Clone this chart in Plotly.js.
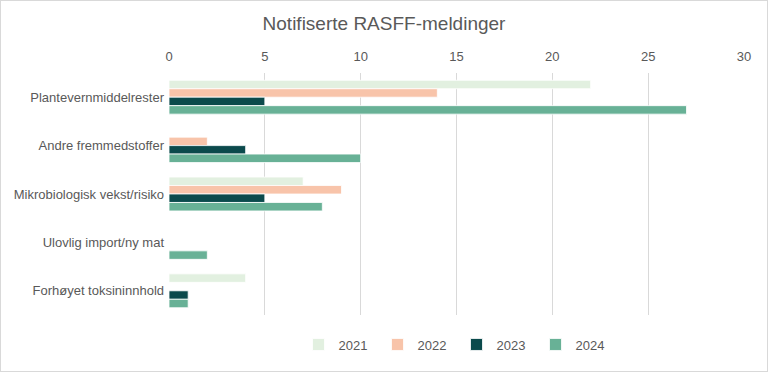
<!DOCTYPE html>
<html><head><meta charset="utf-8">
<script src="https://cdn.plot.ly/plotly-3.0.1.min.js"></script>
<style>html,body{margin:0;padding:0;background:#fff}#c{width:766px;height:370px;border:1px solid #d9d9d9}</style>
</head><body><div id="c"></div>
<script>
const categories = ["Plantevernmiddelrester","Andre fremmedstoffer","Mikrobiologisk vekst/risiko","Ulovlig import/ny mat","Forhøyet toksininnhold"];
const years = ["2021","2022","2023","2024"];
const v2021 = [22, 0, 7, 0, 4];
const v2022 = [14, 2, 9, 0, 0];
const v2023 = [5, 4, 5, 0, 1];
const v2024 = [27, 10, 8, 2, 1];
const colors = ["#E2F0E0","#F8C4AA","#0B4A4C","#68B196"];
const series = [v2021, v2022, v2023, v2024];
const traces = series.map((vals,i)=>({
  type:'bar', orientation:'h', name:years[i], x:vals, y:categories,
  marker:{color:colors[i], line:{color:'#ffffff', width:0.8}},
  hoverinfo:'x+name'
}));
const font = "Liberation Sans, Arial, sans-serif";
Plotly.newPlot('c', traces, {
  width:766, height:370,
  margin:{l:168, r:23, t:72, b:48},
  paper_bgcolor:'#fff', plot_bgcolor:'#fff',
  font:{family:font, size:13, color:'#595959'},
  title:{text:'Notifiserte RASFF-meldinger', x:0.5, xanchor:'center', y:0.94, yanchor:'middle', font:{family:font, size:19, color:'#595959'}},
  barmode:'group', bargap:0.3, bargroupgap:0,
  xaxis:{side:'top', range:[0,30], dtick:5, showgrid:true, gridcolor:'#d9d9d9', zeroline:false, showline:false, ticks:'', ticklabelstandoff:8, tickfont:{size:13, color:'#595959'}},
  yaxis:{autorange:'reversed', showgrid:false, zeroline:false, showline:false, ticks:'', ticklabelstandoff:4, tickfont:{size:13, color:'#595959'}},
  legend:{orientation:'h', x:0.5, xanchor:'center', y:-0.06, yanchor:'top', font:{size:13, color:'#595959'}, traceorder:'normal', entrywidth:34, entrywidthmode:'pixels'},
  showlegend:true
}, {staticPlot:true});
</script></body></html>
